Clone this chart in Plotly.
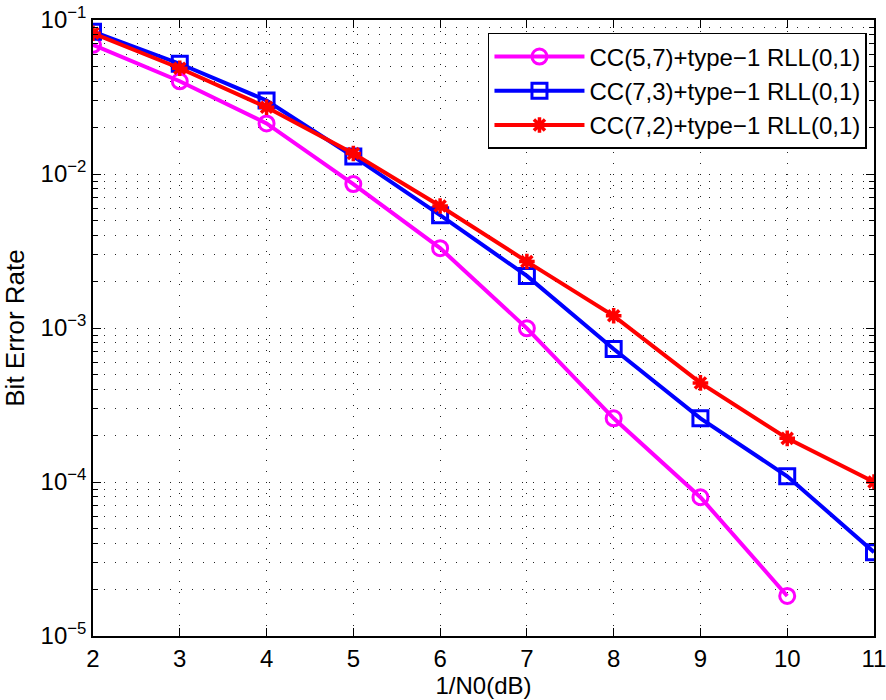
import plotly.graph_objects as go

snr = [2, 3, 4, 5, 6, 7, 8, 9, 10, 11]
ber_57 = [0.069, 0.040, 0.0213, 0.0086, 0.0033, 0.000995, 0.000259, 0.0000796, 0.0000182]
ber_73 = [0.084, 0.052, 0.030, 0.013, 0.0054, 0.00218, 0.00073, 0.000259, 0.000109, 0.000035]
ber_72 = [0.082, 0.0486, 0.0271, 0.0136, 0.0062, 0.0027, 0.0012, 0.00044, 0.000192, 0.0001]
names = ["CC(5,7)+type\u22121 RLL(0,1)", "CC(7,3)+type\u22121 RLL(0,1)", "CC(7,2)+type\u22121 RLL(0,1)"]
ytick_vals = [1e-5, 1e-4, 1e-3, 1e-2, 1e-1]
ytick_text = ["10<sup>\u22125</sup>", "10<sup>\u22124</sup>", "10<sup>\u22123</sup>", "10<sup>\u22122</sup>", "10<sup>\u22121</sup>"]

FONT = "Liberation Sans, Arial, Helvetica, sans-serif"

fig = go.Figure()
fig.add_trace(go.Scatter(x=snr[:len(ber_57)], y=ber_57, name=names[0], mode="lines+markers",
                         line=dict(color="#ff00ff", width=4),
                         marker=dict(symbol="circle-open", size=15, color="#ff00ff", line=dict(width=3, color="#ff00ff"))))
fig.add_trace(go.Scatter(x=snr, y=ber_73, name=names[1], mode="lines+markers",
                         line=dict(color="#0000ff", width=4),
                         marker=dict(symbol="square-open", size=15, color="#0000ff", line=dict(width=3, color="#0000ff"))))
fig.add_trace(go.Scatter(x=snr, y=ber_72, name=names[2], mode="lines+markers",
                         line=dict(color="#ff0000", width=4),
                         marker=dict(symbol="asterisk-open", size=13, color="#ff0000", line=dict(width=3.5, color="#ff0000"))))

grid_dash = "1px,10px"
grid_col = "#222"
fig.update_layout(
    template="none",
    width=886, height=700,
    margin=dict(l=93, r=12, t=20, b=64, autoexpand=False),
    paper_bgcolor="white", plot_bgcolor="white",
    font=dict(family=FONT, size=24, color="black"),
    showlegend=True,
    legend=dict(x=0.991, y=0.979, xanchor="right", yanchor="top",
                bgcolor="white", bordercolor="black", borderwidth=1.5,
                font=dict(size=24), tracegroupgap=0, itemwidth=90),
    xaxis=dict(range=[2, 11], dtick=1, tick0=2, ticks="inside", ticklen=8, tickcolor="black",
               showline=True, linecolor="black", linewidth=1.5, mirror="allticks", automargin=False,
               ticklabeloverflow="allow",
               showgrid=True, gridcolor=grid_col, gridwidth=1, griddash=grid_dash,
               zeroline=False, title=dict(text="1/N0(dB)", standoff=2, font=dict(size=24))),
    yaxis=dict(type="log", range=[-5, -1], tickvals=ytick_vals, ticktext=ytick_text, automargin=False,
               ticklabeloverflow="allow",
               ticks="inside", ticklen=8, tickcolor="black",
               showline=True, linecolor="black", linewidth=1.5, mirror="allticks",
               showgrid=True, gridcolor=grid_col, gridwidth=1, griddash=grid_dash,
               minor=dict(ticks="inside", ticklen=5, tickcolor="black", showgrid=True,
                          gridcolor=grid_col, gridwidth=1, griddash=grid_dash,
                          tickvals=[m * 10 ** e for e in range(-5, -1) for m in range(2, 10)]),
               zeroline=False, title=dict(text="Bit Error Rate", standoff=10, font=dict(size=26))),
)

fig.write_html("out.html")
